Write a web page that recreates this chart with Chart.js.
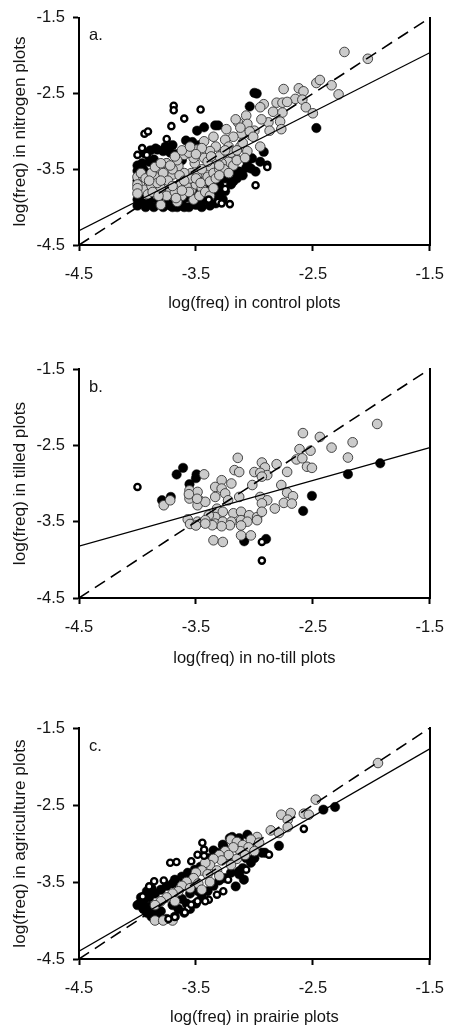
<!DOCTYPE html>
<html>
<head>
<meta charset="utf-8">
<script src="https://cdn.jsdelivr.net/npm/chart.js@4.4.1/dist/chart.umd.min.js"></script>
<style>
  html, body { margin: 0; padding: 0; background: #fff; }
  body { width: 458px; height: 1027px; position: relative; overflow: hidden; }
  canvas { position: absolute; left: 0; }
</style>
</head>
<body>
<canvas id="ca" width="458" height="340" style="top:0px"></canvas>
<canvas id="cb" width="458" height="340" style="top:340px"></canvas>
<canvas id="cc" width="458" height="347" style="top:680px"></canvas>
<script>
// ---------------- DATA ----------------
const xTicks = [-4.5, -3.5, -2.5, -1.5];
const yTicks = [-4.5, -3.5, -2.5, -1.5];
const panelLetters = ['a.', 'b.', 'c.'];
const xTitles = ['log(freq) in control plots', 'log(freq) in no-till plots', 'log(freq) in prairie plots'];
const yTitles = ['log(freq) in nitrogen plots', 'log(freq) in tilled plots', 'log(freq) in agriculture plots'];
const oneToOne = [[-4.5, -4.5], [-1.5, -1.5]];

// panel a
const aFit = [[-4.5, -4.31], [-1.5, -1.96]];
const aGray = [
 [-2.23,-1.95],[-2.03,-2.04],[-2.47,-2.36],[-2.44,-2.32],[-2.34,-2.39],[-2.28,-2.51],[-2.62,-2.43],[-2.58,-2.47],
 [-2.75,-2.44],[-2.65,-2.57],[-2.59,-2.58],[-2.56,-2.68],[-2.50,-2.76],[-2.81,-2.62],[-2.76,-2.62],[-2.72,-2.61],
 [-2.92,-2.64],[-2.95,-2.68],[-2.84,-2.74],[-2.76,-2.75],[-2.78,-2.87],[-2.88,-2.88],[-2.94,-2.84],[-2.87,-2.99],
 [-2.77,-2.97],[-3.07,-2.79],[-3.14,-2.88],[-3.06,-2.90],[-3.00,-2.99],[-3.03,-3.05],[-3.11,-3.03],[-3.16,-2.84],
 [-3.24,-2.97],[-3.12,-2.95],[-3.04,-3.00],[-3.01,-3.07],[-2.95,-3.20],[-3.18,-3.07],[-3.25,-3.11],[-3.35,-3.07],
 [-3.43,-3.13],[-3.33,-3.20],[-3.22,-3.20],[-3.12,-3.20],[-3.06,-3.26],[-3.17,-3.31],[-3.27,-3.29],[-3.38,-3.26],
 [-3.49,-3.24],[-3.60,-3.31],[-3.43,-3.35],[-3.33,-3.37],[-3.22,-3.40],[-3.51,-3.42],[-3.65,-3.46],[-3.38,-3.46],
 [-3.54,-3.55],[-3.70,-3.57],[-3.81,-3.51],[-3.78,-3.64],[-3.49,-3.59],[-3.63,-3.68],[-3.43,-3.66],[-3.90,-3.68],
 [-3.72,-3.77],[-3.54,-3.77],[-3.94,-3.77],[-3.84,-3.83],[-3.91,-3.83],
 [-4.00,-3.60],[-4.00,-3.70],[-4.00,-3.75],[-4.00,-3.82],[-3.95,-3.60],[-3.88,-3.72],[-3.80,-3.75],
 [-3.75,-3.85],[-3.68,-3.80],[-3.62,-3.85],[-3.58,-3.72],[-3.50,-3.70],[-3.45,-3.75],[-3.40,-3.60],[-3.35,-3.55],
 [-3.30,-3.50],[-3.28,-3.42],[-3.45,-3.50],[-3.55,-3.62],[-3.60,-3.55],[-3.70,-3.50],[-3.75,-3.42],[-3.85,-3.60],
 [-3.66,-3.93],[-3.80,-3.97],[-3.52,-3.90],[-3.47,-3.85],[-3.42,-3.80],[-3.18,-3.45],[-3.15,-3.38],[-3.08,-3.35],
 [-3.10,-3.15],[-3.20,-3.28],[-3.30,-3.33],[-3.52,-3.35],[-3.56,-3.28],[-3.66,-3.38],[-3.72,-3.45],[-3.40,-3.40],
 [-3.97,-3.55],[-3.93,-3.62],[-3.88,-3.55],[-3.83,-3.68],[-3.78,-3.55],[-3.74,-3.65],[-3.70,-3.72],[-3.64,-3.58],
 [-3.60,-3.65],[-3.56,-3.80],[-3.50,-3.62],[-3.46,-3.68],[-3.38,-3.66],[-3.33,-3.62],[-3.26,-3.50],[-3.22,-3.55],
 [-3.30,-3.58],[-3.87,-3.80],[-3.82,-3.85],[-3.67,-3.88],[-3.62,-3.78],[-3.38,-3.85],[-3.35,-3.75],[-3.90,-3.65],
 [-3.85,-3.47],[-3.80,-3.42],[-3.68,-3.33],[-3.62,-3.25],[-3.55,-3.20],[-3.45,-3.22],[-3.50,-3.30],[-3.37,-3.33],
 [-3.25,-3.25],[-3.15,-3.25],[-3.30,-3.45],[-3.80,-3.65]
];
const aBlack = [
 [-3.00,-2.49],[-2.98,-2.50],[-3.04,-2.67],[-2.47,-2.955],[-3.49,-2.99],[-3.43,-2.945],[-3.335,-2.92],[-3.31,-2.92],
 [-3.585,-3.12],[-3.53,-3.14],[-3.47,-3.18],[-2.92,-3.27],[-2.95,-3.40],[-3.06,-3.40],[-3.03,-3.49],[-3.10,-3.58],
 [-3.18,-3.53],[-3.25,-3.62],[-3.30,-3.70],[-3.25,-3.79],[-3.36,-3.81],[-3.42,-3.90],[-3.49,-3.83],
 [-3.89,-3.25],[-3.83,-3.24],[-3.78,-3.26],[-3.72,-3.28],[-3.67,-3.30],[-3.70,-3.18],[-3.76,-3.20],[-3.845,-3.225],
 [-3.86,-3.37],[-3.75,-3.42],[-3.62,-3.38],[-4.00,-3.45],[-4.00,-3.52],[-3.95,-3.50],[-3.92,-3.55],[-3.98,-3.58],
 [-4.00,-3.65],[-3.96,-3.42],[-3.90,-3.40],[-3.94,-3.29],
 [-3.82,-3.92],[-3.74,-3.95],[-3.62,-3.96],[-3.52,-3.92],[-3.66,-4.00],[-3.58,-3.87],[-3.45,-3.78],[-3.88,-3.88],
 [-3.95,-3.95],[-3.78,-4.00],[-3.56,-4.00],[-3.50,-3.97],[-3.36,-3.90],[-3.40,-3.72],[-3.15,-3.62],[-3.20,-3.70],
 [-3.30,-3.85],[-3.02,-3.355],[-2.99,-3.53],[-3.07,-3.48],[-3.13,-3.53],[-3.18,-3.66],[-3.32,-3.79],[-3.40,-3.87],
 [-3.46,-3.96],[-3.93,-4.00],[-3.86,-4.00],[-3.72,-3.98],[-3.60,-4.00],[-3.45,-4.00],[-3.38,-3.98],[-3.33,-3.95],
 [-3.27,-3.90],[-4.00,-3.98],[-4.00,-3.90],[-3.98,-3.85],[-3.70,-4.00],[-3.65,-3.97],[-3.90,-3.95]
];
const aOpen = [
 [-3.69,-2.66],[-3.69,-2.72],[-3.46,-2.71],[-3.60,-2.83],[-3.71,-2.93],[-3.94,-3.03],[-3.91,-3.00],[-3.75,-3.10],
 [-3.96,-3.22],[-4.00,-3.31],[-3.92,-3.31],[-2.89,-3.44],[-2.89,-3.47],[-2.99,-3.71],[-3.31,-3.93],[-3.28,-3.95],
 [-3.21,-3.96],[-3.39,-3.90],[-3.25,-3.76]
];

// panel b
const bFit = [[-4.5, -3.82], [-1.5, -2.53]];
const bGray = [
 [-1.95,-2.22],[-2.585,-2.34],[-2.44,-2.39],[-2.34,-2.53],[-2.16,-2.46],[-2.20,-2.66],[-2.614,-2.55],[-2.52,-2.57],
 [-2.64,-2.685],[-2.59,-2.67],[-2.55,-2.78],[-2.508,-2.795],[-2.81,-2.747],[-2.72,-2.848],[-2.77,-3.02],[-2.72,-3.12],
 [-2.67,-3.167],[-2.748,-3.254],[-2.68,-3.263],[-2.825,-3.328],
 [-3.142,-2.664],[-2.936,-2.725],[-2.91,-2.79],[-3.00,-2.85],[-2.95,-2.86],[-2.89,-2.89],[-2.936,-2.91],[-3.17,-2.825],
 [-3.13,-2.85],[-3.43,-2.88],[-3.28,-2.957],[-3.335,-3.045],[-3.28,-3.066],[-3.197,-3.00],[-3.25,-3.13],[-3.018,-3.02],
 [-3.555,-3.09],[-3.486,-3.11],[-3.555,-3.197],[-3.47,-3.22],[-3.486,-3.285],[-3.42,-3.24],[-3.335,-3.176],[-3.225,-3.22],
 [-3.13,-3.176],[-2.95,-3.176],[-2.89,-3.22],[-2.936,-3.26],[-3.56,-3.14],[-3.49,-3.20],
 [-3.32,-3.33],[-3.27,-3.37],[-3.18,-3.39],[-3.114,-3.37],[-3.045,-3.416],[-2.977,-3.44],[-2.936,-3.37],[-3.335,-3.44],
 [-3.39,-3.416],[-3.486,-3.50],[-3.42,-3.48],[-3.335,-3.525],[-3.27,-3.50],[-3.197,-3.50],[-3.114,-3.48],[-3.06,-3.50],
 [-2.977,-3.48],[-3.114,-3.55],[-3.21,-3.547],[-3.28,-3.56],[-3.36,-3.547],[-3.42,-3.525],
 [-3.35,-3.744],[-3.27,-3.766],[-3.114,-3.68],[-3.03,-3.68],[-3.775,-3.285],[-3.72,-3.22],
 [-3.57,-3.47],[-3.55,-3.53],[-3.50,-3.55]
];
const bBlack = [
 [-3.61,-2.795],[-3.665,-2.882],[-3.494,-2.88],[-3.50,-2.93],[-3.555,-3.009],[-3.79,-3.219],[-3.715,-3.176],
 [-2.508,-3.162],[-2.583,-3.36],[-2.20,-2.878],[-1.924,-2.735],[-3.087,-3.757],[-2.90,-3.727]
];
const bOpen = [[-4.00,-3.045],[-2.936,-3.766],[-2.936,-4.01]];

// panel c
const cFit = [[-4.5, -4.40], [-1.5, -1.77]];
const cGray = [
 [-1.943,-1.955],[-2.475,-2.43],[-2.77,-2.626],[-2.69,-2.604],[-2.715,-2.69],[-2.577,-2.613],[-2.535,-2.626],
 [-2.715,-2.786],[-2.86,-2.83],[-2.79,-2.864],[-2.977,-2.916],[-3.03,-2.95],[-2.96,-2.99],
 [-3.20,-2.95],[-3.15,-2.98],[-3.10,-3.02],[-3.05,-3.05],[-3.12,-3.10],[-3.18,-3.05],[-3.25,-3.10],[-3.22,-3.15],
 [-3.30,-3.15],[-3.28,-3.22],[-3.35,-3.20],[-3.38,-3.28],[-3.42,-3.25],[-3.45,-3.35],[-3.50,-3.38],[-3.52,-3.45],
 [-3.40,-3.40],[-3.32,-3.35],[-3.00,-3.10],[-3.08,-3.15],[-3.15,-3.20],[-3.20,-3.28],[-3.58,-3.50],[-3.62,-3.55],
 [-3.55,-3.58],[-3.48,-3.52],[-3.65,-3.62],[-3.70,-3.65],[-3.75,-3.70],[-3.68,-3.75],[-3.80,-3.75],[-3.85,-3.80],
 [-3.45,-3.60],[-3.38,-3.50],[-3.30,-3.42],[-3.85,-4.00],[-3.78,-4.00],[-3.70,-4.00]
];
const cBlack = [
 [-2.41,-2.56],[-2.31,-2.526],[-2.79,-3.03],[-3.06,-2.886],[-3.13,-2.93],[-3.19,-2.915],[-3.21,-2.93],[-3.02,-2.97],
 [-3.266,-3.037],[-3.27,-3.015],[-3.32,-3.12],[-3.39,-3.19],[-3.35,-3.09],[-3.00,-3.19],[-2.91,-3.12],[-2.936,-3.12],
 [-3.13,-3.36],[-3.10,-3.32],[-3.07,-3.19],[-3.03,-3.25],[-3.13,-3.40],[-3.09,-3.47],[-3.16,-3.557],
 [-3.46,-3.30],[-3.51,-3.34],[-3.57,-3.38],[-3.62,-3.43],[-3.68,-3.47],
 [-3.98,-3.78],[-3.95,-3.85],[-3.92,-3.90],[-3.88,-3.95],[-3.82,-3.98],[-3.75,-3.98],[-3.68,-3.95],[-3.60,-3.90],
 [-3.55,-3.85],[-3.50,-3.78],[-3.45,-3.70],[-3.40,-3.62],[-3.35,-3.55],[-3.30,-3.48],[-3.25,-3.45],[-3.20,-3.38],
 [-3.90,-3.70],[-3.85,-3.65],[-3.80,-3.60],[-3.75,-3.55],[-3.70,-3.52],[-3.95,-3.75],[-4.00,-3.80],[-3.62,-3.72],
 [-3.70,-3.80],[-3.80,-3.88],[-3.55,-3.65],[-3.48,-3.62],[-3.88,-3.58],[-3.92,-3.62],[-3.90,-3.82],[-3.85,-3.90],
 [-3.97,-3.70],[-3.65,-3.85],[-3.58,-3.78]
];
const cOpen = [
 [-2.577,-2.81],[-2.875,-3.145],[-3.07,-3.34],[-3.445,-2.99],[-3.43,-3.08],[-3.72,-3.25],[-3.666,-3.24],[-3.54,-3.23],
 [-3.486,-3.146],[-3.43,-3.16],[-3.775,-3.48],[-3.857,-3.49],[-3.90,-3.557],[-3.955,-3.687],[-3.225,-3.47],
 [-3.266,-3.62],[-3.32,-3.665],[-3.39,-3.73],[-3.42,-3.75],[-3.486,-3.75],[-3.57,-3.84],[-3.54,-3.795],
 [-3.595,-3.895],[-3.68,-3.955],[-3.735,-3.98]
];

// ---------------- RENDERING ----------------
const FONT = "'Liberation Sans', Arial, Helvetica, sans-serif";
const TXT = '#141414';
const toXY = arr => arr.map(p => ({ x: p[0], y: p[1] }));

const panelLabel = {
  id: 'panelLabel',
  afterDraw(chart, args, opts) {
    const { ctx, chartArea } = chart;
    ctx.save();
    ctx.font = '16.5px ' + FONT;
    ctx.fillStyle = TXT;
    ctx.textBaseline = 'middle';
    ctx.textAlign = 'left';
    ctx.fillText(opts.text, chartArea.left + 10, chartArea.top + 18);
    ctx.restore();
  }
};

function makePanel(id, idx, gray, black, open, fit, layout) {
  const ctx = document.getElementById(id).getContext('2d');
  new Chart(ctx, {
    type: 'scatter',
    data: {
      datasets: [
        { type: 'line', data: toXY(oneToOne), borderColor: '#000', borderWidth: 1.6, borderDash: [12, 7],
          pointRadius: 0, fill: false, order: 0, yAxisID: 'y' },
        { type: 'line', data: toXY(fit), borderColor: '#000', borderWidth: 1.3,
          pointRadius: 0, fill: false, order: 0, yAxisID: 'y' },
        { data: toXY(open), backgroundColor: '#fff', borderColor: '#000', borderWidth: 2.4,
          pointRadius: 3.1, order: 1, yAxisID: 'y' },
        { data: toXY(gray), backgroundColor: '#cbcbcb', borderColor: '#333', borderWidth: 0.9,
          pointRadius: 4.8, order: 2, yAxisID: 'y' },
        { data: toXY(black), backgroundColor: '#000', borderColor: '#000', borderWidth: 0.5,
          pointRadius: 4.7, order: 3, yAxisID: 'y' }
      ]
    },
    options: {
      responsive: false,
      animation: false,
      events: [],
      layout: { padding: { top: layout.top, right: 16, left: 0, bottom: 0 } },
      plugins: {
        legend: { display: false },
        tooltip: { enabled: false },
        panelLabel: { text: panelLetters[idx] }
      },
      scales: {
        x: {
          type: 'linear', position: 'bottom', min: -4.5, max: -1.5,
          afterBuildTicks: s => { s.ticks = xTicks.map(v => ({ value: v })); },
          afterFit: s => { s.height = layout.xh; },
          ticks: { color: TXT, font: { family: FONT, size: 16.5 }, padding: 14,
                   callback: v => v.toFixed(1), maxRotation: 0, autoSkip: false },
          grid: { drawOnChartArea: false, drawTicks: true, tickLength: 6, tickWidth: 2, tickColor: '#000' },
          border: { display: true, color: '#000', width: 2 },
          title: { display: true, text: xTitles[idx], color: TXT, font: { family: FONT, size: 16.5 },
                   padding: { top: 0, bottom: layout.xtp } }
        },
        y: {
          type: 'linear', position: 'left', min: -4.5, max: -1.5,
          afterBuildTicks: s => { s.ticks = yTicks.map(v => ({ value: v })); },
          afterFit: s => { s.width = 79; },
          ticks: { color: TXT, font: { family: FONT, size: 16.5 }, padding: 8,
                   callback: v => v.toFixed(1), autoSkip: false },
          grid: { drawOnChartArea: false, drawTicks: true, tickLength: 6, tickWidth: 2, tickColor: '#000' },
          border: { display: true, color: '#000', width: 2 },
          title: { display: true, text: yTitles[idx], color: TXT, font: { family: FONT, size: 17.2 },
                   padding: { top: 10, bottom: 0 } }
        },
        y2: {
          type: 'linear', position: 'right', min: -4.5, max: -1.5,
          afterFit: s => { s.width = 0; },
          ticks: { display: false },
          grid: { display: false, drawOnChartArea: false },
          border: { display: true, color: '#000', width: 2 }
        }
      }
    },
    plugins: [panelLabel]
  });
}

makePanel('ca', 0, aGray, aBlack, aOpen, aFit, { top: 13, xh: 95, xtp: 27 });
makePanel('cb', 1, bGray, bBlack, bOpen, bFit, { top: 29, xh: 82, xtp: 12 });
makePanel('cc', 2, cGray, cBlack, cOpen, cFit, { top: 48, xh: 68, xtp: 0 });
</script>
</body>
</html>
